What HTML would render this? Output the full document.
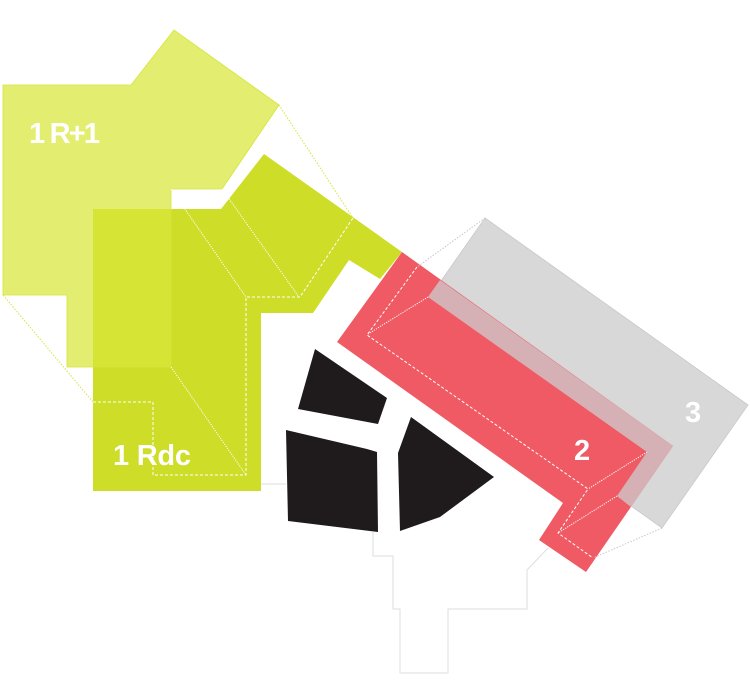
<!DOCTYPE html>
<html><head><meta charset="utf-8"><style>
html,body{margin:0;padding:0;background:#fff;}
svg{display:block;}
text{font-family:"Liberation Sans",sans-serif;font-weight:bold;fill:#fff;font-size:29px;}
</style></head><body>
<svg width="750" height="700" viewBox="0 0 750 700" xmlns="http://www.w3.org/2000/svg">
<!-- light grey outline building -->
<polyline points="373,532 373,556 393,556 393,609 400,609 400,673 448,673 448,609 527,609 527,570 548,548" fill="none" stroke="#dedede" stroke-width="1"/>
<line x1="260" y1="484" x2="286" y2="484" stroke="#dedede"/>
<!-- black buildings -->
<polygon points="315,349 387,398 378,424 298,409" fill="#1f1b1c"/>
<polygon points="286,430 367,449 377,452 378,532 288,521" fill="#1f1b1c"/>
<polygon points="411,417 494,477 440,517 400,531 398,453" fill="#1f1b1c"/>
<!-- Rdc -->
<polygon points="93,209 221,209 264,154 402,252 380,279 349,260 313,313 261,313 261,491 93,491" fill="#cedd27"/>
<!-- R+1 -->
<polygon points="3,85 131,85 174,30 279,105 222,189 171,189 171,367 67,367 67,295 3,295" fill="rgb(217,230,60)" fill-opacity="0.735" stroke="#d6e43a" stroke-width="0.8"/>
<!-- grey 3 -->
<polygon points="485,218 748,405 662,528 399,341" fill="#d8d8d8" stroke="#c8c8c8" stroke-width="0.8"/>
<!-- red 2 -->
<polygon points="402,252 673,446 586,572 539,540 563,503 337,342" fill="#ef5a64"/>
<!-- overlap -->
<polygon points="440,280 673,446 631,507 617,496 647,452 428,297" fill="#d5b1b5"/>
<!-- connectors -->
<g fill="none" stroke-width="1">
<line x1="279" y1="105" x2="353" y2="218" stroke="#d6e43a" stroke-dasharray="1.5,1.5"/>
<line x1="3" y1="295" x2="93" y2="402" stroke="#d6e43a" stroke-dasharray="1.5,1.5"/>
<line x1="485" y1="218" x2="417" y2="267" stroke="#c8c8c8" stroke-dasharray="1.5,1.5"/>
<line x1="662" y1="528" x2="593" y2="558" stroke="#c8c8c8" stroke-dasharray="1.5,1.5"/>
<polyline points="93,402 153,402 153,475 246,475 246,297 300,297 353,218" stroke="#fff" stroke-dasharray="3,2"/>
<polyline points="417,267 367,335 588,489 558,533 593,558" stroke="#fff" stroke-dasharray="3,2"/>
<g stroke="#fff" stroke-dasharray="1.2,1.2">
<line x1="171" y1="189" x2="246" y2="297"/>
<line x1="171" y1="367" x2="246" y2="475"/>
<line x1="222" y1="189" x2="299" y2="297"/>
<line x1="428" y1="297" x2="368" y2="334"/>
<line x1="647" y1="452" x2="588" y2="489"/>
<line x1="617" y1="496" x2="558" y2="533"/>
</g>
</g>
<text x="29" y="143" textLength="71">1 R+1</text>
<text x="113" y="465" textLength="78">1 Rdc</text>
<text x="574" y="460">2</text>
<text x="685" y="422">3</text>
</svg>
</body></html>
